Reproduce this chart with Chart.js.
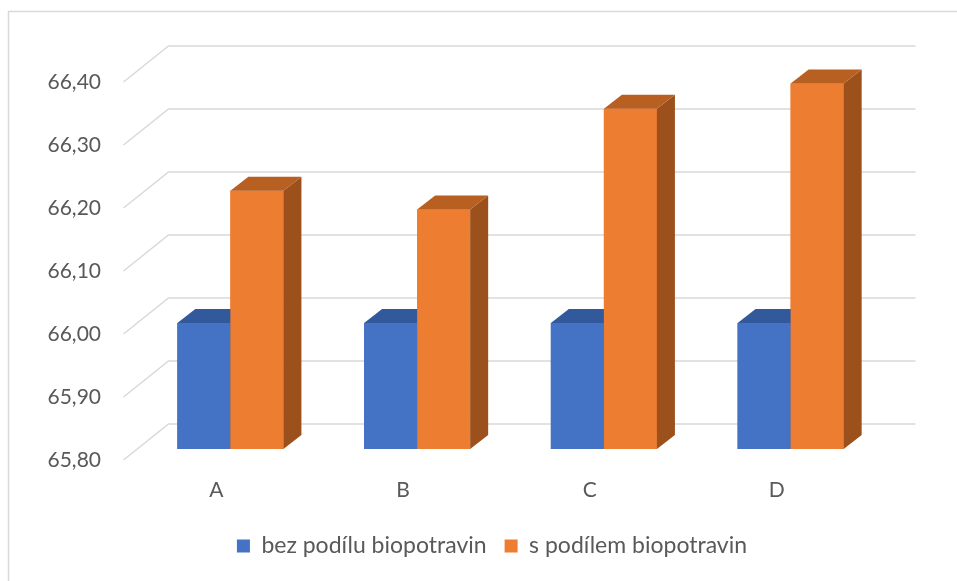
<!DOCTYPE html>
<html>
<head>
<meta charset="utf-8">
<script src="https://cdn.jsdelivr.net/npm/chart.js@4.4.0/dist/chart.umd.min.js"></script>
<style>
    html, body { margin: 0; padding: 0; background: #ffffff; }
    #wrap { width: 957px; height: 581px; }
</style>
</head>
<body>
<div id="wrap"><canvas id="biopotravinyChart" width="957" height="581"></canvas></div>
<script>
const categories = ["A", "B", "C", "D"];
const bezPodilu = [66.0, 66.0, 66.0, 66.0];
const sPodilem = [66.21, 66.18, 66.34, 66.38];
const yMin = 65.8;
const yMax = 66.4;
const yStep = 0.1;

const axisFont = { family: "Lato", size: 21 };
const legendFont = { family: "Lato", size: 23 };
const textColor = "#595959";
const gridColor = "#d9d9d9";

// depth of the floor (front -> back) and of the bars themselves
const floorFront = { dx: -13.5, dy: 11 };
const floorBack = { dx: 31.5, dy: -25 };
const barDepth = { dx: 18, dy: -14 };

const faceColors = [
    { top: "#32599c", side: "#2b4c85" },
    { top: "#b85f22", side: "#9c501c" },
];

function drawFaces(ctx, bar, colors, bottom) {
    const props = bar.getProps(["x", "y", "base", "width"], true);
    const base = Math.min(props.base, bottom);
    const y = props.y;
    const left = props.x - props.width / 2;
    const right = props.x + props.width / 2;

    ctx.fillStyle = colors.side;
    ctx.beginPath();
    ctx.moveTo(right, y);
    ctx.lineTo(right + barDepth.dx, y + barDepth.dy);
    ctx.lineTo(right + barDepth.dx, base + barDepth.dy);
    ctx.lineTo(right, base);
    ctx.closePath();
    ctx.fill();

    ctx.fillStyle = colors.top;
    ctx.beginPath();
    ctx.moveTo(left, y);
    ctx.lineTo(right, y);
    ctx.lineTo(right + barDepth.dx, y + barDepth.dy);
    ctx.lineTo(left + barDepth.dx, y + barDepth.dy);
    ctx.closePath();
    ctx.fill();
}

const depthPlugin = {
    id: "depth",
    beforeDraw(chart) {
        const ctx = chart.ctx;
        ctx.save();
        ctx.fillStyle = "#ffffff";
        ctx.fillRect(0, 0, chart.width, chart.height);
        ctx.strokeStyle = gridColor;
        ctx.lineWidth = 1.5;
        ctx.strokeRect(8.5, 11.5, chart.width + 20, chart.height + 20);
        ctx.restore();
    },
    beforeDatasetsDraw(chart) {
        const ctx = chart.ctx;
        const area = chart.chartArea;
        const yScale = chart.scales.y;
        ctx.save();
        ctx.strokeStyle = gridColor;
        ctx.lineWidth = 1.5;
        yScale.ticks.forEach((tick) => {
            const y = yScale.getPixelForValue(tick.value);
            ctx.beginPath();
            ctx.moveTo(area.left + floorFront.dx, y + floorFront.dy);
            ctx.lineTo(area.left + floorBack.dx, y + floorBack.dy);
            ctx.lineTo(area.right + floorBack.dx, y + floorBack.dy);
            ctx.stroke();
        });
        ctx.restore();
    },
    afterDatasetsDraw(chart) {
        // redraw every bar left to right so each front face hides the
        // side of the bar standing next to it
        const ctx = chart.ctx;
        const area = chart.chartArea;
        ctx.save();
        ctx.beginPath();
        ctx.rect(0, area.top - 40, chart.width, area.bottom - area.top + 40);
        ctx.clip();
        categories.forEach((cat, i) => {
            chart.data.datasets.forEach((ds, d) => {
                const bar = chart.getDatasetMeta(d).data[i];
                bar.draw(ctx);
                drawFaces(ctx, bar, faceColors[d], area.bottom);
            });
        });
        ctx.restore();
    },
};

const chartData = {
    labels: categories,
    datasets: [
        {
            label: "bez podílu biopotravin",
            data: bezPodilu,
            backgroundColor: "#4472c4",
            borderWidth: 0,
        },
        {
            label: "s podílem biopotravin",
            data: sPodilem,
            backgroundColor: "#ed7d31",
            borderWidth: 0,
        },
    ],
};

new Chart(document.getElementById("biopotravinyChart"), {
    type: "bar",
    data: chartData,
    plugins: [depthPlugin],
    options: {
        responsive: false,
        animation: false,
        devicePixelRatio: 1,
        categoryPercentage: 0.568,
        barPercentage: 1.0,
        layout: {
            padding: { top: 71, left: 40, right: 13, bottom: 13.5 },
        },
        scales: {
            x: {
                grid: { display: false, drawTicks: false },
                border: { display: false },
                ticks: {
                    color: textColor,
                    font: axisFont,
                    padding: 29,
                    labelOffset: -14,
                },
                afterFit(scale) {
                    scale.height = 67.5;
                },
            },
            y: {
                min: yMin,
                max: yMax,
                grid: { display: false, drawTicks: false },
                border: { display: false },
                ticks: {
                    stepSize: yStep,
                    color: textColor,
                    font: axisFont,
                    padding: 36,
                    labelOffset: 11,
                    callback: (value) => value.toFixed(2).replace(".", ","),
                },
                afterFit(scale) {
                    scale.width = 97;
                },
            },
            // empty spacer on the right so the plot ends where the original does
            spacer: {
                position: "right",
                grid: { display: false, drawTicks: false },
                border: { display: false },
                ticks: { display: false },
                afterFit(scale) {
                    scale.width = 60;
                },
            },
        },
        plugins: {
            legend: {
                position: "bottom",
                labels: {
                    color: textColor,
                    font: legendFont,
                    boxWidth: 13,
                    boxHeight: 13,
                    padding: 18,
                },
            },
            tooltip: { enabled: false },
        },
    },
});
</script>
</body>
</html>
